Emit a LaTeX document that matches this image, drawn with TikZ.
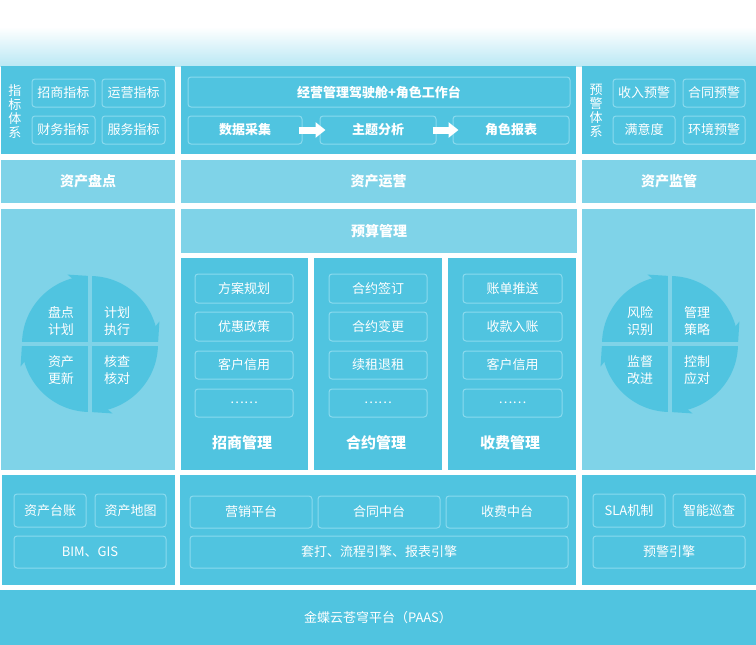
\documentclass[tikz,border=0pt]{standalone}
\usepackage{fontspec}
\setmainfont{Noto Sans CJK SC}
\usetikzlibrary{arrows.meta}
\definecolor{dk}{RGB}{80,196,224}
\definecolor{lt}{RGB}{127,211,232}
\definecolor{bd}{RGB}{138,218,238}
\definecolor{grad}{RGB}{186,232,244}
\tikzset{
  panel/.style={rectangle, inner sep=0pt, outer sep=0pt, text=white, fill=dk,
    font=\fontsize{14}{16}\selectfont\bfseries},
  ibox/.style={rectangle, rounded corners=3pt, draw=bd, line width=1pt, inner sep=0pt,
    text=white, font=\fontsize{13}{15}\selectfont},
  bbox/.style={ibox, font=\fontsize{13}{15}\selectfont\bfseries},
  ttl/.style={text=white, inner sep=0pt, font=\fontsize{15}{17}\selectfont\bfseries},
  ctx/.style={text=white, inner sep=0pt, align=center, font=\fontsize{13}{17}\selectfont},
  vtx/.style={text=white, inner sep=0pt, align=center, font=\fontsize{13}{14}\selectfont},
  blockarrow/.style={white, line width=7pt, -{Triangle[width=15pt,length=10pt]},
    shorten <=-4pt, shorten >=-6pt}
}
\newcommand\pnl[7][]{\node[panel,minimum width={(#5-#3)*1pt},minimum height={(#6-#4)*1pt},#1] (#2) at ({(#3+#5)/2},{-(#4+#6)/2}) {#7};}
\newcommand\ibx[7][]{\node[ibox,minimum width={(#5-#3)*1pt},minimum height={(#6-#4)*1pt},#1] (#2) at ({(#3+#5)/2},{-(#4+#6)/2}) {#7};}
\newcommand\cyclewheel[2]{%
  \begin{scope}[shift={(#1,-#2)}]
    \fill[dk] (0,0) circle[radius=68pt];
    \fill[dk] (90:68pt) -- (108:73pt) -- (104:66pt) -- cycle;
    \fill[dk] (0:68pt) -- (18:73pt) -- (14:66pt) -- cycle;
    \fill[dk] (-90:68pt) -- (-72:73pt) -- (-76:66pt) -- cycle;
    \fill[dk] (180:68pt) -- (198:73pt) -- (194:66pt) -- cycle;
    \draw[lt, line width=4pt] (-78,0) -- (78,0) (0,-78) -- (0,78);
  \end{scope}}
\begin{document}
\begin{tikzpicture}[x=1pt,y=1pt]
\useasboundingbox (0,0) rectangle (756,-645);
\fill[white] (0,0) rectangle (756,-645);
\shade[top color=white, bottom color=grad] (0,-27) rectangle (756,-66);

% ---------- row 1
\pnl{p1l}{1}{66}{175}{154}{}
\pnl{p1m}{181}{66}{576}{154}{}
\pnl{p1r}{582}{66}{756}{154}{}
\node[vtx] (zbtx) at (15,-111) {指\\标\\体\\系};
\ibx{zb1}{32}{79}{95}{107}{招商指标}
\ibx{zb2}{102}{79}{165}{107}{运营指标}
\ibx{zb3}{32}{116}{95}{144}{财务指标}
\ibx{zb4}{102}{116}{165}{144}{服务指标}
\ibx[bbox]{jsc}{188}{77}{570}{107}{经营管理驾驶舱+角色工作台}
\ibx[bbox]{sj}{188}{116}{302}{144}{数据采集}
\ibx[bbox]{zt}{320}{116}{436}{144}{主题分析}
\ibx[bbox]{js}{453}{116}{569}{144}{角色报表}
\draw[blockarrow] (sj.east) -- (zt.west);
\draw[blockarrow] (zt.east) -- (js.west);
\node[vtx] (yjtx) at (596,-111) {预\\警\\体\\系};
\ibx{yj1}{613}{79}{675}{107}{收入预警}
\ibx{yj2}{683}{79}{745}{107}{合同预警}
\ibx{yj3}{613}{116}{675}{144}{满意度}
\ibx{yj4}{683}{116}{745}{144}{环境预警}

% ---------- row 2
\pnl[fill=lt]{p2l}{1}{160}{175}{203}{资产盘点}
\pnl[fill=lt]{p2m}{181}{160}{576}{203}{资产运营}
\pnl[fill=lt]{p2r}{582}{160}{756}{203}{资产监管}

% ---------- row 3
\pnl[fill=lt]{p3l}{1}{209}{175}{470}{}
\pnl[fill=lt]{p3t}{181}{209}{577}{253}{预算管理}
\pnl{c1}{181}{258}{308}{470}{}
\pnl{c2}{314}{258}{442}{470}{}
\pnl{c3}{448}{258}{576}{470}{}
\pnl[fill=lt]{p3r}{582}{209}{755}{470}{}

\ibx{a1}{195}{274}{293}{303}{方案规划}
\ibx{a2}{195}{312}{293}{341}{优惠政策}
\ibx{a3}{195}{351}{293}{379}{客户信用}
\ibx{a4}{195}{389}{293}{417}{……}
\node[ttl] (t1) at (242,-443) {招商管理};
\ibx{b1}{329}{274}{427}{303}{合约签订}
\ibx{b2}{329}{312}{427}{341}{合约变更}
\ibx{b3}{329}{351}{427}{379}{续租退租}
\ibx{b4}{329}{389}{427}{417}{……}
\node[ttl] (t2) at (376,-443) {合约管理};
\ibx{d1}{463}{274}{562}{303}{账单推送}
\ibx{d2}{463}{312}{562}{341}{收款入账}
\ibx{d3}{463}{351}{562}{379}{客户信用}
\ibx{d4}{463}{389}{562}{417}{……}
\node[ttl] (t3) at (510,-443) {收费管理};

\cyclewheel{90}{344}
\node[ctx] (l1) at (61,-321) {盘点\\计划};
\node[ctx] (l2) at (117,-321) {计划\\执行};
\node[ctx] (l3) at (61,-370) {资产\\更新};
\node[ctx] (l4) at (117,-370) {核查\\核对};

\cyclewheel{670}{344}
\node[ctx] (r1) at (640,-321) {风险\\识别};
\node[ctx] (r2) at (697,-321) {管理\\策略};
\node[ctx] (r3) at (640,-370) {监督\\改进};
\node[ctx] (r4) at (697,-370) {控制\\应对};

% ---------- row 4
\pnl{p4l}{2}{475}{175}{585}{}
\pnl{p4m}{180}{475}{576}{585}{}
\pnl{p4r}{582}{475}{756}{585}{}
\ibx{e1}{14}{494}{86}{527}{资产台账}
\ibx{e2}{95}{494}{166}{527}{资产地图}
\ibx{e3}{14}{536}{166}{568}{BIM、GIS}
\ibx{f1}{190}{496}{312}{528}{营销平台}
\ibx{f2}{318}{496}{440}{528}{合同中台}
\ibx{f3}{446}{496}{568}{528}{收费中台}
\ibx{f4}{190}{536}{568}{568}{套打、流程引擎、报表引擎}
\ibx{g1}{593}{494}{665}{527}{SLA机制}
\ibx{g2}{673}{494}{745}{527}{智能巡查}
\ibx{g3}{593}{536}{745}{568}{预警引擎}

% ---------- row 5
\pnl[font=\fontsize{13}{15}\selectfont]{p5}{0}{590}{756}{645}{金蝶云苍穹平台（PAAS）}
\end{tikzpicture}
\end{document}
